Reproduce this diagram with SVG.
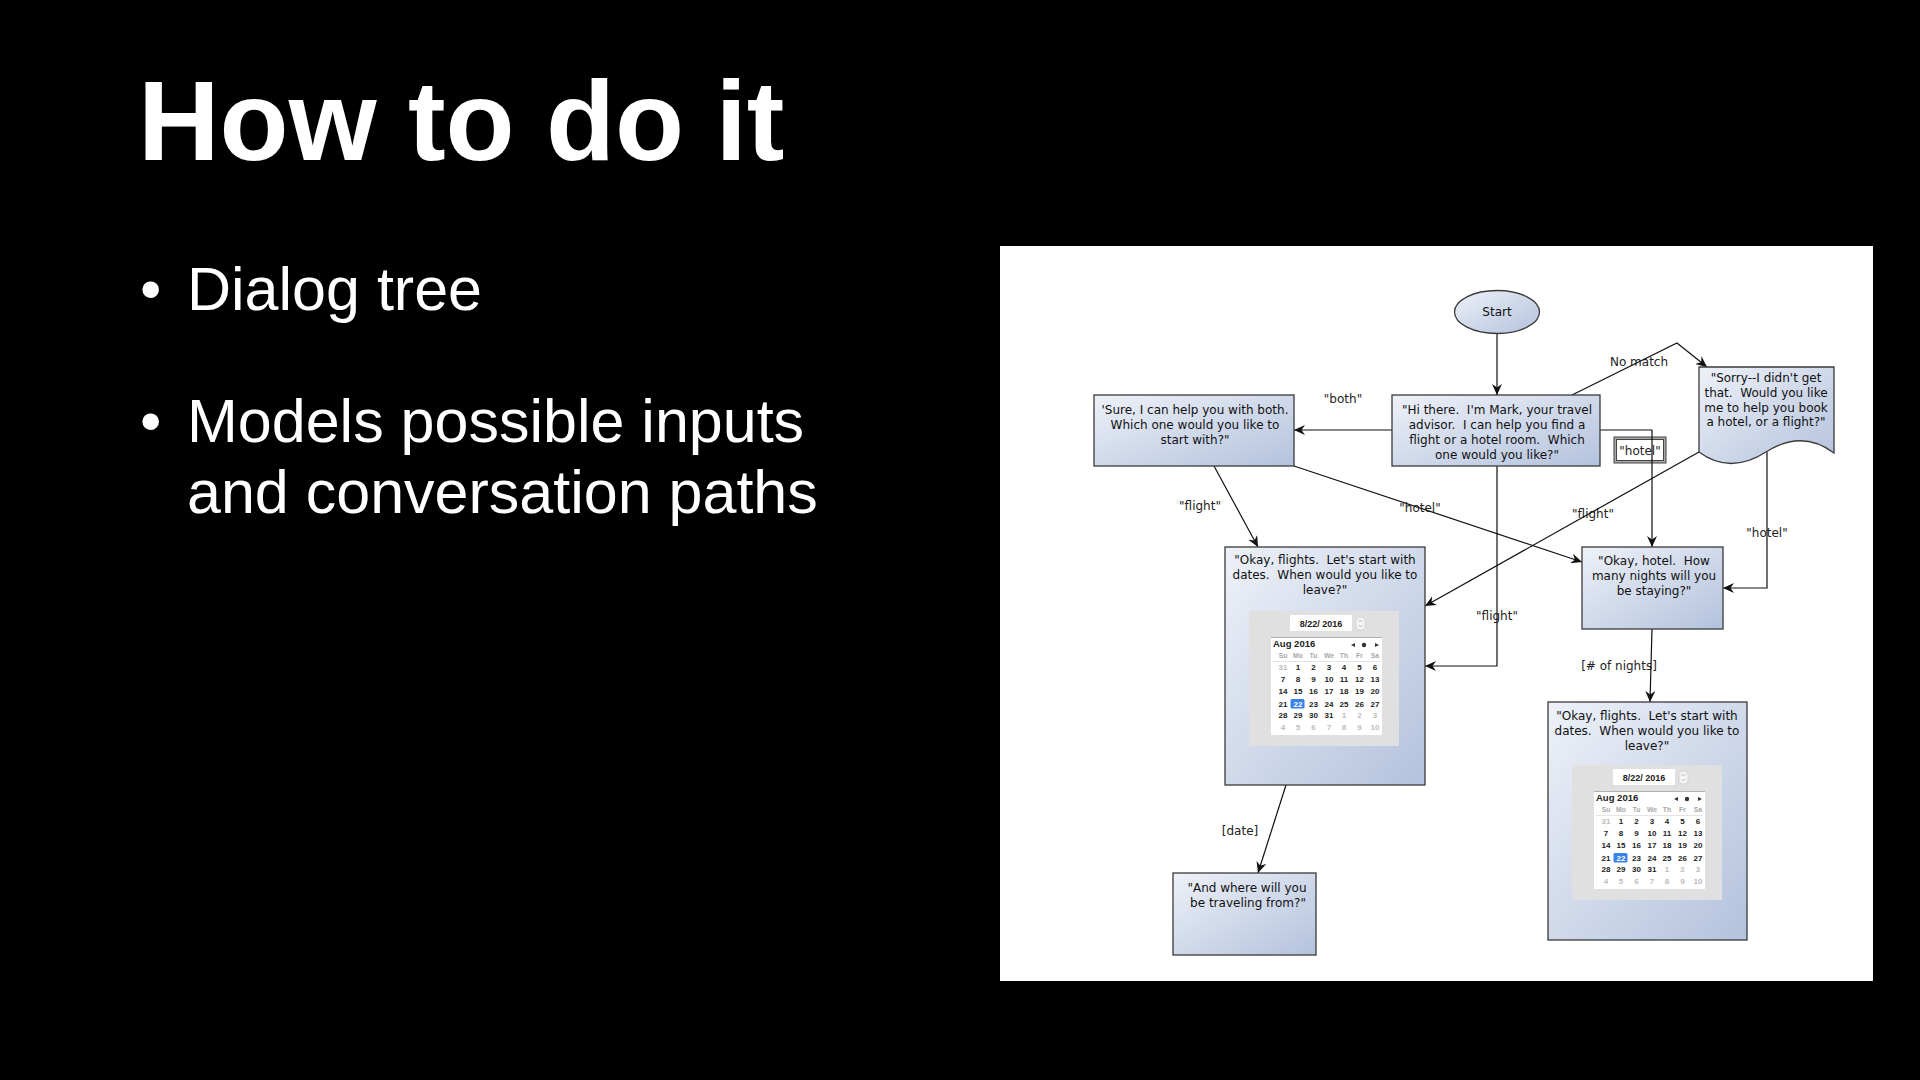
<svg xmlns="http://www.w3.org/2000/svg" width="1920" height="1080" viewBox="0 0 1920 1080">
  <defs>
    <style>
      .title { font-family: "Liberation Sans", Arial, sans-serif; font-weight: bold; font-size: 113px; fill: #ffffff; }
      .bullet { font-family: "Liberation Sans", Arial, sans-serif; font-size: 61px; fill: #ffffff; }
      .box { fill: url(#boxFill); stroke: #3a3a3a; stroke-width: 1.3; }
      .btxt { font-family: "DejaVu Sans", Verdana, sans-serif; font-size: 12px; fill: #111111; text-anchor: middle; white-space: pre; }
      .elbl { font-family: "DejaVu Sans", Verdana, sans-serif; font-size: 12px; fill: #222222; text-anchor: middle; white-space: pre; }
      .edge { fill: none; stroke: #111111; stroke-width: 1.2; marker-end: url(#arrow); }
      .cal-num { font-family: "Liberation Sans", Arial, sans-serif; font-size: 8px; font-weight: bold; fill: #222222; text-anchor: middle; }
      .cal-dim { fill: #bbbbbb; }
      .cal-hdr { font-family: "Liberation Sans", Arial, sans-serif; font-size: 6.8px; font-weight: bold; fill: #a8a8a8; text-anchor: middle; }
      .cal-title { font-family: "Liberation Sans", Arial, sans-serif; font-size: 9.5px; font-weight: bold; fill: #222222; }
      .cal-date { font-family: "Liberation Sans", Arial, sans-serif; font-size: 9px; font-weight: bold; fill: #222222; text-anchor: middle; white-space: pre; }
    </style>
    <linearGradient id="boxFill" x1="0" y1="0" x2="1" y2="1">
      <stop offset="0" stop-color="#eef1f8"/>
      <stop offset="1" stop-color="#b3c2dd"/>
    </linearGradient>
    <marker id="arrow" viewBox="0 0 11 10" refX="11" refY="5" markerWidth="11" markerHeight="10" markerUnits="userSpaceOnUse" orient="auto">
      <path d="M0,0 L11,5 L0,10 L3.5,5 Z" fill="#111111"/>
    </marker>
  </defs>

  <!-- slide background -->
  <rect x="0" y="0" width="1920" height="1080" fill="#000000"/>

  <!-- heading and bullet points -->
  <text class="title" x="138" y="160">How to do it</text>
  <text class="bullet" x="140" y="310">•</text>
  <text class="bullet" x="187" y="310">Dialog tree</text>
  <text class="bullet" x="140" y="442">•</text>
  <text class="bullet" x="187" y="442">Models possible inputs</text>
  <text class="bullet" x="187" y="513">and conversation paths</text>

  <!-- diagram canvas -->
  <rect x="1000" y="246" width="873" height="735" fill="#ffffff"/>

  <!-- connectors -->
  <g id="connectors">
    <g id="e-start-hi">
      <path class="edge" d="M1497,334 L1497,395"/>
    </g>
    <g id="e-hi-sure">
      <text class="elbl" x="1343" y="403">"both"</text>
      <path class="edge" d="M1392,430 L1294,430"/>
    </g>
    <g id="e-hi-sorry">
      <text class="elbl" x="1639" y="366">No match</text>
      <path class="edge" d="M1572,395 L1677,343 L1707,367"/>
    </g>
    <g id="e-hi-hotel">
      <rect x="1614" y="437" width="52" height="26" fill="#a8a8a8" stroke="#444444" stroke-width="1"/>
      <rect x="1616.5" y="439.5" width="47" height="21" fill="#ffffff" stroke="#444444" stroke-width="1"/>
      <text class="elbl" x="1640" y="455">"hotel"</text>
      <path class="edge" d="M1600,430 L1652,430 L1652,547"/>
    </g>
    <g id="e-hi-flight">
      <text class="elbl" x="1497" y="620">"flight"</text>
      <path class="edge" d="M1497,466 L1497,666 L1425,666"/>
    </g>
    <g id="e-sure-flight">
      <text class="elbl" x="1200" y="510">"flight"</text>
      <path class="edge" d="M1214,466 L1258,547"/>
    </g>
    <g id="e-sure-hotel">
      <text class="elbl" x="1420" y="512">"hotel"</text>
      <path class="edge" d="M1294,466 L1582,562"/>
    </g>
    <g id="e-sorry-flight">
      <text class="elbl" x="1593" y="518">"flight"</text>
      <path class="edge" d="M1699,452 L1425,606"/>
    </g>
    <g id="e-sorry-hotel">
      <text class="elbl" x="1767" y="537">"hotel"</text>
      <path class="edge" d="M1767,452 L1767,588 L1723,588"/>
    </g>
    <g id="e-flight-where">
      <text class="elbl" x="1240" y="835">[date]</text>
      <path class="edge" d="M1286,785 L1258,873"/>
    </g>
    <g id="e-hotel-flight2">
      <text class="elbl" x="1619" y="670">[# of nights]</text>
      <path class="edge" d="M1652,629 L1650,702"/>
    </g>
  </g>

  <!-- nodes -->
  <g id="start">
    <ellipse cx="1497" cy="312" rx="42.5" ry="21.5" class="box"/>
    <text class="btxt" x="1497" y="316">Start</text>
  </g>

  <g id="greeting">
    <rect x="1392" y="395" width="208" height="71" class="box"/>
    <text class="btxt" x="1497" y="414">"Hi there.  I'm Mark, your travel</text>
    <text class="btxt" x="1497" y="429">advisor.  I can help you find a</text>
    <text class="btxt" x="1497" y="444">flight or a hotel room.  Which</text>
    <text class="btxt" x="1497" y="459">one would you like?"</text>
  </g>

  <g id="both">
    <rect x="1094" y="395" width="200" height="71" class="box"/>
    <text class="btxt" x="1195" y="414">'Sure, I can help you with both.</text>
    <text class="btxt" x="1195" y="429">Which one would you like to</text>
    <text class="btxt" x="1195" y="444">start with?"</text>
  </g>

  <g id="no-match">
    <path class="box" d="M1699,367 L1834,367 L1834,453 Q1802,429 1766,452 Q1730,475 1699,452 Z"/>
    <text class="btxt" x="1766" y="382">"Sorry--I didn't get</text>
    <text class="btxt" x="1766" y="397">that.  Would you like</text>
    <text class="btxt" x="1766" y="412">me to help you book</text>
    <text class="btxt" x="1766" y="426">a hotel, or a flight?"</text>
  </g>

  <g id="flights">
    <rect x="1225" y="547" width="200" height="238" class="box"/>
    <text class="btxt" x="1325" y="564">"Okay, flights.  Let's start with</text>
    <text class="btxt" x="1325" y="579">dates.  When would you like to</text>
    <text class="btxt" x="1325" y="594">leave?"</text>
    <g transform="translate(1249,611)">
      <rect x="0" y="0" width="150" height="135" fill="#e0e0e0"/>
      <rect x="41" y="4" width="62" height="16" fill="#ffffff"/>
      <text class="cal-date" x="72" y="16">8/22/ 2016</text>
      <rect x="107" y="6" width="9" height="13" rx="4" fill="#f4f4f4" stroke="#c8c8c8" stroke-width="0.6"/>
      <path d="M109.5,11 L111.5,9 L113.5,11 M109.5,14 L111.5,16 L113.5,14" fill="none" stroke="#999999" stroke-width="0.6"/>
      <rect x="22" y="26" width="111" height="98" fill="#ffffff"/>
      <line x1="22" y1="26.5" x2="133" y2="26.5" stroke="#b0b0b0" stroke-width="1"/>
      <text class="cal-title" x="24" y="36">Aug 2016</text>
      <path d="M102,34 L106,32 L106,36 Z M126,32 L130,34 L126,36 Z" fill="#333333"/>
      <circle cx="115" cy="34" r="2.2" fill="#333333"/>
      <text class="cal-hdr" y="47"><tspan x="34">Su</tspan><tspan x="49">Mo</tspan><tspan x="64.5">Tu</tspan><tspan x="80">We</tspan><tspan x="95">Th</tspan><tspan x="110.5">Fr</tspan><tspan x="126">Sa</tspan></text>
      <line x1="24" y1="50.5" x2="131" y2="50.5" stroke="#dddddd" stroke-width="0.8"/>
      <text class="cal-num" y="59"><tspan x="34" class="cal-dim">31</tspan><tspan x="49">1</tspan><tspan x="64.5">2</tspan><tspan x="80">3</tspan><tspan x="95">4</tspan><tspan x="110.5">5</tspan><tspan x="126">6</tspan></text>
      <text class="cal-num" y="71"><tspan x="34">7</tspan><tspan x="49">8</tspan><tspan x="64.5">9</tspan><tspan x="80">10</tspan><tspan x="95">11</tspan><tspan x="110.5">12</tspan><tspan x="126">13</tspan></text>
      <text class="cal-num" y="83"><tspan x="34">14</tspan><tspan x="49">15</tspan><tspan x="64.5">16</tspan><tspan x="80">17</tspan><tspan x="95">18</tspan><tspan x="110.5">19</tspan><tspan x="126">20</tspan></text>
      <rect x="41.5" y="88" width="14" height="9.5" rx="1.5" fill="#3b82e6"/>
      <text class="cal-num" y="95.5"><tspan x="34">21</tspan><tspan x="49" fill="#ffffff">22</tspan><tspan x="64.5">23</tspan><tspan x="80">24</tspan><tspan x="95">25</tspan><tspan x="110.5">26</tspan><tspan x="126">27</tspan></text>
      <text class="cal-num" y="107"><tspan x="34">28</tspan><tspan x="49">29</tspan><tspan x="64.5">30</tspan><tspan x="80">31</tspan><tspan x="95" class="cal-dim">1</tspan><tspan x="110.5" class="cal-dim">2</tspan><tspan x="126" class="cal-dim">3</tspan></text>
      <text class="cal-num cal-dim" y="119"><tspan x="34">4</tspan><tspan x="49">5</tspan><tspan x="64.5">6</tspan><tspan x="80">7</tspan><tspan x="95">8</tspan><tspan x="110.5">9</tspan><tspan x="126">10</tspan></text>
    </g>
  </g>

  <g id="hotel">
    <rect x="1582" y="547" width="141" height="82" class="box"/>
    <text class="btxt" x="1654" y="565">"Okay, hotel.  How</text>
    <text class="btxt" x="1654" y="580">many nights will you</text>
    <text class="btxt" x="1654" y="595">be staying?"</text>
  </g>

  <g id="where-from">
    <rect x="1173" y="873" width="143" height="82" class="box"/>
    <text class="btxt" x="1247" y="892">"And where will you</text>
    <text class="btxt" x="1248" y="907">be traveling from?"</text>
  </g>

  <g id="flights-after-hotel">
    <rect x="1548" y="702" width="199" height="238" class="box"/>
    <text class="btxt" x="1647" y="720">"Okay, flights.  Let's start with</text>
    <text class="btxt" x="1647" y="735">dates.  When would you like to</text>
    <text class="btxt" x="1647" y="750">leave?"</text>
    <g transform="translate(1572,765)">
      <rect x="0" y="0" width="150" height="135" fill="#e0e0e0"/>
      <rect x="41" y="4" width="62" height="16" fill="#ffffff"/>
      <text class="cal-date" x="72" y="16">8/22/ 2016</text>
      <rect x="107" y="6" width="9" height="13" rx="4" fill="#f4f4f4" stroke="#c8c8c8" stroke-width="0.6"/>
      <path d="M109.5,11 L111.5,9 L113.5,11 M109.5,14 L111.5,16 L113.5,14" fill="none" stroke="#999999" stroke-width="0.6"/>
      <rect x="22" y="26" width="111" height="98" fill="#ffffff"/>
      <line x1="22" y1="26.5" x2="133" y2="26.5" stroke="#b0b0b0" stroke-width="1"/>
      <text class="cal-title" x="24" y="36">Aug 2016</text>
      <path d="M102,34 L106,32 L106,36 Z M126,32 L130,34 L126,36 Z" fill="#333333"/>
      <circle cx="115" cy="34" r="2.2" fill="#333333"/>
      <text class="cal-hdr" y="47"><tspan x="34">Su</tspan><tspan x="49">Mo</tspan><tspan x="64.5">Tu</tspan><tspan x="80">We</tspan><tspan x="95">Th</tspan><tspan x="110.5">Fr</tspan><tspan x="126">Sa</tspan></text>
      <line x1="24" y1="50.5" x2="131" y2="50.5" stroke="#dddddd" stroke-width="0.8"/>
      <text class="cal-num" y="59"><tspan x="34" class="cal-dim">31</tspan><tspan x="49">1</tspan><tspan x="64.5">2</tspan><tspan x="80">3</tspan><tspan x="95">4</tspan><tspan x="110.5">5</tspan><tspan x="126">6</tspan></text>
      <text class="cal-num" y="71"><tspan x="34">7</tspan><tspan x="49">8</tspan><tspan x="64.5">9</tspan><tspan x="80">10</tspan><tspan x="95">11</tspan><tspan x="110.5">12</tspan><tspan x="126">13</tspan></text>
      <text class="cal-num" y="83"><tspan x="34">14</tspan><tspan x="49">15</tspan><tspan x="64.5">16</tspan><tspan x="80">17</tspan><tspan x="95">18</tspan><tspan x="110.5">19</tspan><tspan x="126">20</tspan></text>
      <rect x="41.5" y="88" width="14" height="9.5" rx="1.5" fill="#3b82e6"/>
      <text class="cal-num" y="95.5"><tspan x="34">21</tspan><tspan x="49" fill="#ffffff">22</tspan><tspan x="64.5">23</tspan><tspan x="80">24</tspan><tspan x="95">25</tspan><tspan x="110.5">26</tspan><tspan x="126">27</tspan></text>
      <text class="cal-num" y="107"><tspan x="34">28</tspan><tspan x="49">29</tspan><tspan x="64.5">30</tspan><tspan x="80">31</tspan><tspan x="95" class="cal-dim">1</tspan><tspan x="110.5" class="cal-dim">2</tspan><tspan x="126" class="cal-dim">3</tspan></text>
      <text class="cal-num cal-dim" y="119"><tspan x="34">4</tspan><tspan x="49">5</tspan><tspan x="64.5">6</tspan><tspan x="80">7</tspan><tspan x="95">8</tspan><tspan x="110.5">9</tspan><tspan x="126">10</tspan></text>
    </g>
  </g>
</svg>
